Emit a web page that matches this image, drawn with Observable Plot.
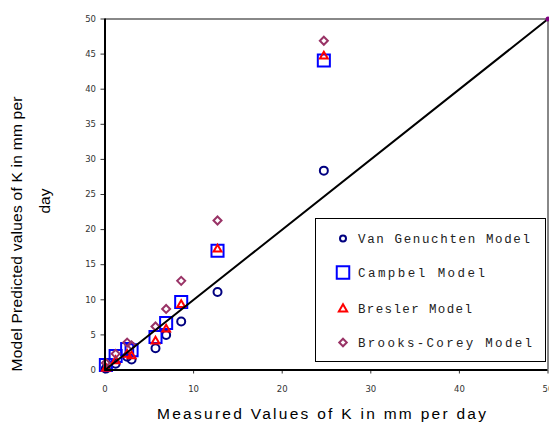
<!DOCTYPE html>
<html>
<head>
<meta charset="utf-8">
<script src="https://cdn.jsdelivr.net/npm/d3@7"></script>
<script src="https://cdn.jsdelivr.net/npm/@observablehq/plot@0.6"></script>
<style>
  html, body { margin: 0; padding: 0; background: white; }
  #chart { position: relative; width: 549px; height: 425px; }
</style>
</head>
<body>
<div id="chart"></div>
<script>
// ---- data ----
const measured     = [0.1, 1.2, 2.5, 3.0, 5.7, 6.9, 8.6, 12.7, 24.7];
const vanGenuchten = [0.2, 0.9, 1.9, 1.5, 3.1, 5.0, 6.9, 11.1, 28.4];
const campbell     = [0.7, 2.0, 3.0, 2.8, 4.7, 6.7, 9.7, 17.0, 44.1];
const bresler      = [0.2, 1.3, 2.2, 2.0, 4.1, 5.8, 9.3, 17.2, 44.7];
const brooksCorey  = [1.0, 2.3, 3.9, 3.5, 6.2, 8.7, 12.7, 21.3, 46.9];
const lineX = [0, 50];
const lineY = [0, 50];
const xTicks = [0, 10, 20, 30, 40, 50];
const yTicks = [0, 5, 10, 15, 20, 25, 30, 35, 40, 45, 50];
const seriesNames = ["Van Genuchten Model", "Campbel Model", "Bresler Model", "Brooks-Corey Model"];
const xTitle = "Measured Values of K in mm per day";
const yTitle1 = "Model Predicted values of K in mm per";
const yTitle2 = "day";

const rows = measured.map((m, i) => ({m, vg: vanGenuchten[i], cb: campbell[i], br: bresler[i], bc: brooksCorey[i]}));
const lineRows = lineX.map((x, i) => ({x, y: lineY[i]}));

const colors = {vg: "#000080", cb: "#0000FF", br: "#FF0000", bc: "#993366"};

const chart = Plot.plot({
  width: 549,
  height: 425,
  marginLeft: 104.5,
  marginRight: 1.5,
  marginTop: 18.5,
  marginBottom: 55.5,
  style: {fontFamily: "DejaVu Sans, Verdana, sans-serif", fontSize: "8.5px", color: "#333", background: "white"},
  x: {domain: [0, 50], ticks: xTicks, tickSize: 4, tickPadding: 12, label: null, tickFormat: d => String(d)},
  y: {domain: [0, 50], ticks: yTicks, tickSize: 4, tickPadding: 5, label: null, tickFormat: d => String(d)},
  marks: [
    Plot.ruleY([50], {stroke: "#888", strokeWidth: 2}),
    Plot.ruleX([50], {stroke: "#888", strokeWidth: 2}),
    Plot.dot(rows, {x: "m", y: "vg", symbol: "circle", r: 4, stroke: colors.vg, strokeWidth: 2, fill: "none"}),
    Plot.dot(rows, {x: "m", y: "cb", symbol: "square", r: 6.8, stroke: colors.cb, strokeWidth: 2, fill: "none"}),
    Plot.dot(rows, {x: "m", y: "br", symbol: "triangle", r: 2.9, stroke: colors.br, strokeWidth: 2, fill: "none"}),
    Plot.dot(rows, {x: "m", y: "bc", symbol: "diamond2", r: 3.6, stroke: colors.bc, strokeWidth: 2, fill: "none"}),
    Plot.line(lineRows, {x: "x", y: "y", stroke: "black", strokeWidth: 2}),
    Plot.dot(lineRows.slice(1), {x: "x", y: "y", r: 2.5, fill: "#800080"}),
    Plot.ruleX([0], {stroke: "black", strokeWidth: 2}),
    Plot.ruleY([0], {stroke: "black", strokeWidth: 2})
  ]
});

document.getElementById("chart").appendChild(chart);

const svg = d3.select(chart);

// axis titles
svg.append("text")
  .attr("x", 321.5).attr("y", 419)
  .attr("text-anchor", "middle")
  .attr("font-family", "Liberation Sans, Arial, sans-serif")
  .attr("font-size", 15.5)
  .attr("fill", "black")
  .attr("textLength", 329).attr("lengthAdjust", "spacing")
  .text(xTitle);

svg.append("text")
  .attr("transform", "translate(22,234) rotate(-90)")
  .attr("text-anchor", "middle")
  .attr("font-family", "Liberation Sans, Arial, sans-serif")
  .attr("font-size", 15.5)
  .attr("fill", "black")
  .attr("textLength", 275).attr("lengthAdjust", "spacing")
  .text(yTitle1);

svg.append("text")
  .attr("transform", "translate(50,201) rotate(-90)")
  .attr("text-anchor", "middle")
  .attr("font-family", "Liberation Sans, Arial, sans-serif")
  .attr("font-size", 15.5)
  .attr("fill", "black")
  .text(yTitle2);

// legend
const lg = svg.append("g");
lg.append("rect")
  .attr("x", 315.5).attr("y", 218.5).attr("width", 230).attr("height", 143)
  .attr("fill", "white").attr("stroke", "black").attr("stroke-width", 1);

const legendItems = [
  {name: seriesNames[0], color: colors.vg, sym: d3.symbolCircle, size: Math.PI * 3 * 3, y: 238.5, len: 172},
  {name: seriesNames[1], color: colors.cb, sym: d3.symbolSquare, size: 12.5 * 12.5, y: 272.5, len: 127},
  {name: seriesNames[2], color: colors.br, sym: d3.symbolTriangle, size: 30, y: 309, len: 114},
  {name: seriesNames[3], color: colors.bc, sym: d3.symbolDiamond2, size: 36, y: 342.5, len: 174}
];
legendItems.forEach(it => {
  lg.append("path")
    .attr("transform", `translate(343,${it.y})`)
    .attr("d", d3.symbol(it.sym, it.size)())
    .attr("fill", "none").attr("stroke", it.color).attr("stroke-width", 2);
  lg.append("text")
    .attr("x", 358).attr("y", it.y + 4)
    .attr("text-anchor", "start")
    .attr("font-family", "Liberation Mono, Courier New, monospace")
    .attr("font-size", 12.5)
    .attr("fill", "#222")
    .attr("textLength", it.len).attr("lengthAdjust", "spacing")
    .text(it.name);
});
</script>
</body>
</html>
